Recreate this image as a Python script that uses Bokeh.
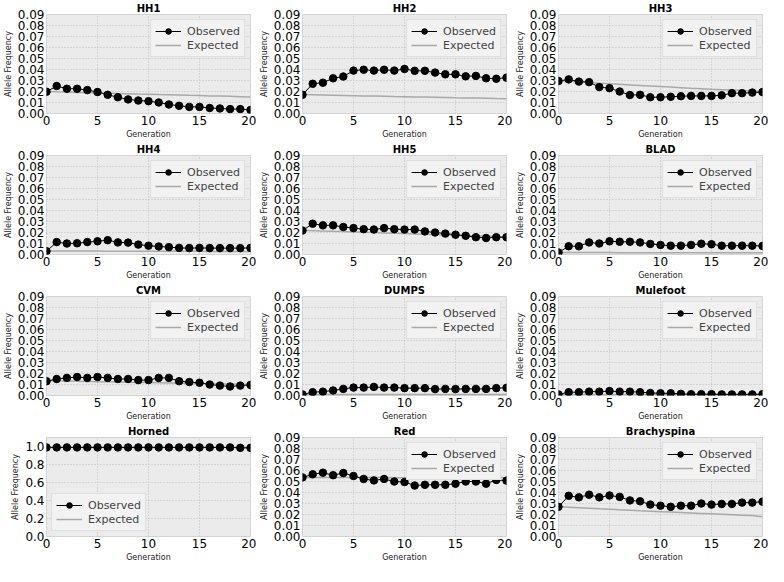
from bokeh.plotting import figure
from bokeh.layouts import gridplot
from bokeh.models import (FixedTicker, NumeralTickFormatter, Legend, LegendItem, Range1d,
                          ColumnDataSource)
from bokeh.embed import file_html
from bokeh.resources import INLINE

generation = list(range(21))

titles = ["HH1", "HH2", "HH3", "HH4", "HH5", "BLAD",
          "CVM", "DUMPS", "Mulefoot", "Horned", "Red", "Brachyspina"]

observed = {
    "HH1": [0.0198, 0.0250, 0.0225, 0.0225, 0.0213, 0.0195, 0.0170, 0.0148, 0.0128, 0.0118, 0.0112, 0.0100,
            0.0082, 0.0070, 0.0060, 0.0060, 0.0050, 0.0046, 0.0040, 0.0040, 0.0032],
    "HH2": [0.0170, 0.0270, 0.0280, 0.0320, 0.0336, 0.0390, 0.0398, 0.0390, 0.0398, 0.0390, 0.0405, 0.0388,
            0.0388, 0.0372, 0.0356, 0.0356, 0.0338, 0.0342, 0.0320, 0.0316, 0.0326],
    "HH3": [0.0295, 0.0310, 0.0290, 0.0285, 0.0240, 0.0230, 0.0200, 0.0168, 0.0170, 0.0148, 0.0148, 0.0152,
            0.0157, 0.0160, 0.0160, 0.0160, 0.0165, 0.0185, 0.0185, 0.0190, 0.0195],
    "HH4": [0.0030, 0.0113, 0.0100, 0.0102, 0.0113, 0.0120, 0.0130, 0.0110, 0.0108, 0.0090, 0.0080, 0.0073,
            0.0067, 0.0060, 0.0058, 0.0060, 0.0058, 0.0058, 0.0058, 0.0058, 0.0060],
    "HH5": [0.0218, 0.0280, 0.0265, 0.0265, 0.0250, 0.0240, 0.0230, 0.0227, 0.0240, 0.0230, 0.0227, 0.0227,
            0.0210, 0.0200, 0.0190, 0.0180, 0.0170, 0.0157, 0.0150, 0.0157, 0.0157],
    "BLAD": [0.0018, 0.0075, 0.0075, 0.0110, 0.0100, 0.0120, 0.0116, 0.0116, 0.0110, 0.0096, 0.0087, 0.0080,
             0.0080, 0.0087, 0.0098, 0.0093, 0.0080, 0.0080, 0.0080, 0.0080, 0.0078],
    "CVM": [0.0130, 0.0150, 0.0160, 0.0168, 0.0160, 0.0168, 0.0160, 0.0150, 0.0150, 0.0140, 0.0140, 0.0160,
            0.0160, 0.0130, 0.0122, 0.0116, 0.0100, 0.0090, 0.0082, 0.0090, 0.0096],
    "DUMPS": [0.0010, 0.0030, 0.0035, 0.0046, 0.0060, 0.0072, 0.0072, 0.0078, 0.0072, 0.0072, 0.0067, 0.0067,
              0.0067, 0.0058, 0.0060, 0.0058, 0.0060, 0.0060, 0.0060, 0.0067, 0.0070],
    "Mulefoot": [0.0010, 0.0030, 0.0030, 0.0035, 0.0035, 0.0040, 0.0035, 0.0035, 0.0030, 0.0023, 0.0020, 0.0020,
                 0.0015, 0.0012, 0.0012, 0.0012, 0.0010, 0.0010, 0.0010, 0.0010, 0.0012],
    "Horned": [0.990, 0.990, 0.990, 0.990, 0.990, 0.990, 0.990, 0.990, 0.990, 0.990, 0.990, 0.990,
               0.990, 0.990, 0.990, 0.990, 0.990, 0.990, 0.990, 0.985, 0.985],
    "Red": [0.0537, 0.0565, 0.0580, 0.0557, 0.0577, 0.0550, 0.0523, 0.0510, 0.0523, 0.0500, 0.0495, 0.0463,
            0.0470, 0.0470, 0.0470, 0.0480, 0.0500, 0.0500, 0.0480, 0.0514, 0.0508],
    "Brachyspina": [0.0270, 0.0370, 0.0356, 0.0380, 0.0356, 0.0373, 0.0360, 0.0328, 0.0320, 0.0290, 0.0280, 0.0270,
                    0.0280, 0.0280, 0.0300, 0.0290, 0.0296, 0.0296, 0.0308, 0.0308, 0.0317],
}

expected = {
    "HH1": [0.0200, 0.0197, 0.0195, 0.0192, 0.0190, 0.0187, 0.0185, 0.0182, 0.0180, 0.0177, 0.0175, 0.0172,
            0.0170, 0.0168, 0.0165, 0.0163, 0.0160, 0.0158, 0.0156, 0.0153, 0.0150],
    "HH2": [0.0172, 0.0170, 0.0168, 0.0166, 0.0164, 0.0162, 0.0160, 0.0158, 0.0156, 0.0154, 0.0153, 0.0151,
            0.0149, 0.0147, 0.0145, 0.0143, 0.0142, 0.0140, 0.0138, 0.0136, 0.0135],
    "HH3": [0.0300, 0.0294, 0.0288, 0.0282, 0.0276, 0.0271, 0.0265, 0.0260, 0.0255, 0.0250, 0.0245, 0.0240,
            0.0235, 0.0230, 0.0226, 0.0221, 0.0217, 0.0213, 0.0209, 0.0204, 0.0200],
    "HH4": [0.0032, 0.0032, 0.0031, 0.0031, 0.0031, 0.0031, 0.0030, 0.0030, 0.0030, 0.0030, 0.0030, 0.0029,
            0.0029, 0.0029, 0.0029, 0.0029, 0.0028, 0.0028, 0.0028, 0.0028, 0.0028],
    "HH5": [0.0220, 0.0217, 0.0214, 0.0211, 0.0208, 0.0205, 0.0202, 0.0199, 0.0196, 0.0193, 0.0190, 0.0187,
            0.0184, 0.0181, 0.0178, 0.0175, 0.0172, 0.0169, 0.0166, 0.0163, 0.0160],
    "BLAD": [0.0018, 0.0018, 0.0018, 0.0018, 0.0018, 0.0018, 0.0017, 0.0017, 0.0017, 0.0017, 0.0017, 0.0017,
             0.0017, 0.0017, 0.0016, 0.0016, 0.0016, 0.0016, 0.0016, 0.0016, 0.0016],
    "CVM": [0.0135, 0.0133, 0.0131, 0.0130, 0.0128, 0.0126, 0.0124, 0.0123, 0.0121, 0.0119, 0.0118, 0.0116,
            0.0114, 0.0112, 0.0111, 0.0109, 0.0107, 0.0105, 0.0104, 0.0102, 0.0100],
    "DUMPS": [0.0010, 0.0010, 0.0010, 0.0010, 0.0010, 0.0010, 0.0010, 0.0010, 0.0010, 0.0010, 0.0010, 0.0009,
              0.0009, 0.0009, 0.0009, 0.0009, 0.0009, 0.0009, 0.0009, 0.0009, 0.0009],
    "Mulefoot": [0.0008, 0.0008, 0.0008, 0.0008, 0.0008, 0.0008, 0.0008, 0.0008, 0.0008, 0.0008, 0.0008, 0.0008,
                 0.0008, 0.0008, 0.0008, 0.0008, 0.0008, 0.0008, 0.0008, 0.0008, 0.0008],
    "Horned": [0.990, 0.990, 0.990, 0.990, 0.990, 0.990, 0.990, 0.990, 0.990, 0.990, 0.990, 0.990,
               0.990, 0.990, 0.990, 0.990, 0.990, 0.990, 0.990, 0.990, 0.990],
    "Red": [0.0537, 0.0537, 0.0537, 0.0537, 0.0536, 0.0536, 0.0536, 0.0536, 0.0536, 0.0535, 0.0535, 0.0535,
            0.0535, 0.0535, 0.0534, 0.0534, 0.0534, 0.0534, 0.0534, 0.0533, 0.0533],
    "Brachyspina": [0.0272, 0.0267, 0.0262, 0.0257, 0.0252, 0.0248, 0.0243, 0.0239, 0.0234, 0.0230, 0.0226, 0.0222,
                    0.0218, 0.0214, 0.0210, 0.0206, 0.0202, 0.0198, 0.0194, 0.0190, 0.0180],
}

x_ticks = [0, 5, 10, 15, 20]
y_ticks_small = [0.00, 0.01, 0.02, 0.03, 0.04, 0.05, 0.06, 0.07, 0.08, 0.09]
y_ticks_horned = [0.0, 0.2, 0.4, 0.6, 0.8, 1.0]

FONT = "DejaVu Sans"
CELL_W, CELL_H = 256, 141

figs = []
for name in titles:
    horned = name == "Horned"
    ymax = 1.1 if horned else 0.09
    p = figure(width=CELL_W, height=CELL_H, output_backend="svg", toolbar_location=None,
               title=name,
               x_range=Range1d(0, 20), y_range=Range1d(0, ymax),
               min_border_left=38, min_border_right=6, min_border_top=0, min_border_bottom=27,
               background_fill_color="#ebebeb", border_fill_color="white",
               outline_line_color="#d4d4d4", outline_line_width=1)
    p.title.align = "center"
    p.title.text_font = FONT
    p.title.text_font_size = "10px"
    p.title.text_font_style = "bold"
    p.title.text_color = "black"
    p.title.standoff = 1
    p.title.offset = 0

    p.xaxis.ticker = FixedTicker(ticks=x_ticks)
    p.yaxis.ticker = FixedTicker(ticks=y_ticks_horned if horned else y_ticks_small)
    p.yaxis.formatter = NumeralTickFormatter(format="0.0" if horned else "0.00")
    for ax in (p.xaxis, p.yaxis):
        ax.axis_line_color = None
        ax.major_tick_line_color = None
        ax.minor_tick_line_color = None
        ax.major_tick_out = 0
        ax.major_tick_in = 0
        ax.minor_tick_out = 0
        ax.minor_tick_in = 0
        ax.major_label_text_font = FONT
        ax.major_label_text_font_size = "12px"
        ax.major_label_text_color = "black"
        ax.axis_label_text_font = FONT
        ax.axis_label_text_font_size = "8px"
        ax.axis_label_text_font_style = "normal"
        ax.axis_label_text_color = "#222222"
        ax.major_label_standoff = 2
        ax.axis_label_standoff = 2
    p.xaxis.axis_label = "Generation"
    p.yaxis.axis_label = "Allele Frequency"

    p.grid.grid_line_color = "#bdbdbd"
    p.grid.grid_line_dash = "1 2"
    p.grid.grid_line_width = 1

    src = ColumnDataSource(dict(g=generation, obs=observed[name], exp=expected[name]))
    r_exp = p.line("g", "exp", source=src, line_color="#a9a9a9", line_width=1.5)
    r_obs_l = p.line("g", "obs", source=src, line_color="black", line_width=1)
    r_obs_m = p.scatter("g", "obs", source=src, size=7.5, fill_color="black", line_color="black")

    legend = Legend(items=[LegendItem(label="Observed", renderers=[r_obs_l, r_obs_m]),
                           LegendItem(label="Expected", renderers=[r_exp])],
                    location="bottom_left" if horned else "top_right",
                    label_text_font=FONT, label_text_font_size="11px",
                    glyph_width=26, glyph_height=14, label_height=14, label_standoff=6,
                    spacing=0, padding=4, margin=5,
                    background_fill_color="#f2f2f2", background_fill_alpha=1.0,
                    border_line_color="#cccccc")
    p.add_layout(legend)
    figs.append(p)

grid = gridplot(figs, ncols=3, toolbar_location=None)

open("out.html", "w").write(file_html(grid, INLINE))
